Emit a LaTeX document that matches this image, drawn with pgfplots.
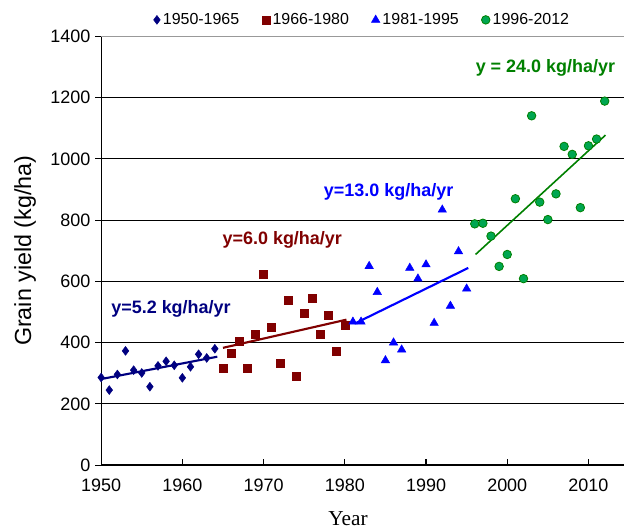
\documentclass[border=0pt]{standalone}
\usepackage{pgfplots}
\pgfplotsset{compat=1.18}
\usepackage{fontspec}
\setmainfont{Liberation Sans}
\newfontfamily\serifyear{Liberation Serif}
\definecolor{navy}{HTML}{000080}
\definecolor{dred}{HTML}{800000}
\definecolor{bblue}{HTML}{0000FF}
\definecolor{gfill}{HTML}{00A651}
\definecolor{gline}{HTML}{008000}
\begin{document}
\begin{tikzpicture}
\begin{axis}[
  scale only axis, width=393pt, height=322pt,
  xmin=1950, xmax=2014.4, ymin=0, ymax=1400,
  axis x line*=bottom, axis y line*=left,
  axis line style={black, line width=0.9pt},
  xtick={1950,1960,...,2010}, ytick={0,200,...,1200},
  extra y ticks={1400}, extra y tick style={grid style={gray!80, line width=1.2pt}},
  ymajorgrids, grid style={black, line width=0.7pt},
  xtick align=inside, ytick align=outside,
  tick style={black, line width=0.8pt}, major tick length=4.5pt,
  tick label style={font=\fontsize{13.5}{15}\selectfont},
  xticklabel style={yshift=-7pt},
  /pgf/number format/assume math mode=true,
  /pgf/number format/set thousands separator={},
  xlabel={\serifyear\fontsize{16}{18}\selectfont Year},
  ylabel={\fontsize{17.5}{20}\selectfont Grain yield (kg/ha)},
  xlabel style={yshift=-8pt, xshift=-11pt},
  ylabel style={yshift=-5pt},
  legend style={at={(0.5,1)}, anchor=center, yshift=12.5pt, draw=none, fill=none,
    inner ysep=8pt, font=\fontsize{12}{14}\selectfont, legend cell align=left},
  legend columns=-1,
  /tikz/every even column/.append style={column sep=15pt},
  clip=false,
]
% 1950-1965
\addplot[only marks, mark=diamond*, mark size=3.3pt, color=navy] coordinates {
(1950,286) (1951,245) (1952,296) (1953,373) (1954,310) (1955,301) (1956,256)
(1957,324) (1958,339) (1959,326) (1960,285) (1961,321) (1962,362) (1963,350) (1964,380)};
\addlegendentry{1950-1965}
% 1966-1980
\addplot[only marks, mark=square*, mark size=3pt, color=dred] coordinates {
(1965,315) (1966,364) (1967,406) (1968,315) (1969,426) (1970,622) (1971,451)
(1972,334) (1973,540) (1974,290) (1975,495) (1976,544) (1977,426) (1978,489)
(1979,373) (1980,456)};
\addlegendentry{1966-1980}
% 1981-1995
\addplot[only marks, mark=triangle*, mark size=3.6pt, color=bblue] coordinates {
(1981,468) (1982,468) (1983,650) (1984,565) (1985,342) (1986,400) (1987,377)
(1988,644) (1989,609) (1990,655) (1991,464) (1992,834) (1993,520) (1994,698) (1995,576)};
\addlegendentry{1981-1995}
% 1996-2012
\addplot[only marks, mark=*, mark size=3.2pt, draw=gline, fill=gfill, mark options={line width=0.6pt}] coordinates {
(1996,788) (1997,790) (1998,748) (1999,649) (2000,688) (2001,870) (2002,609)
(2003,1141) (2004,859) (2005,802) (2006,886) (2007,1041) (2008,1015) (2009,841)
(2010,1043) (2011,1065) (2012,1189)};
\addlegendentry{1996-2012}
% trend lines
\addplot[forget plot, navy, line width=1.6pt] coordinates {(1950,281) (1964.3,354)};
\addplot[forget plot, dred, line width=1.6pt] coordinates {(1965,383) (1980.2,475)};
\addplot[forget plot, bblue, line width=1.6pt] coordinates {(1981.2,462) (1995.2,644)};
\addplot[forget plot, gline, line width=1.2pt] coordinates {(1996.1,688) (2012.1,1078)};
% labels
\node[navy, font=\bfseries\fontsize{13.5}{15}\selectfont] at (axis cs:1958.6,511) {y=5.2 kg/ha/yr};
\node[dred, font=\bfseries\fontsize{13.5}{15}\selectfont] at (axis cs:1972.3,736) {y=6.0 kg/ha/yr};
\node[bblue, font=\bfseries\fontsize{13.5}{15}\selectfont] at (axis cs:1985.4,892) {y=13.0 kg/ha/yr};
\node[gline, font=\bfseries\fontsize{13.5}{15}\selectfont] at (axis cs:2004.7,1296) {y = 24.0 kg/ha/yr};
\end{axis}
\path (current axis.south west) ++(-76pt,0pt);
\end{tikzpicture}
\end{document}
